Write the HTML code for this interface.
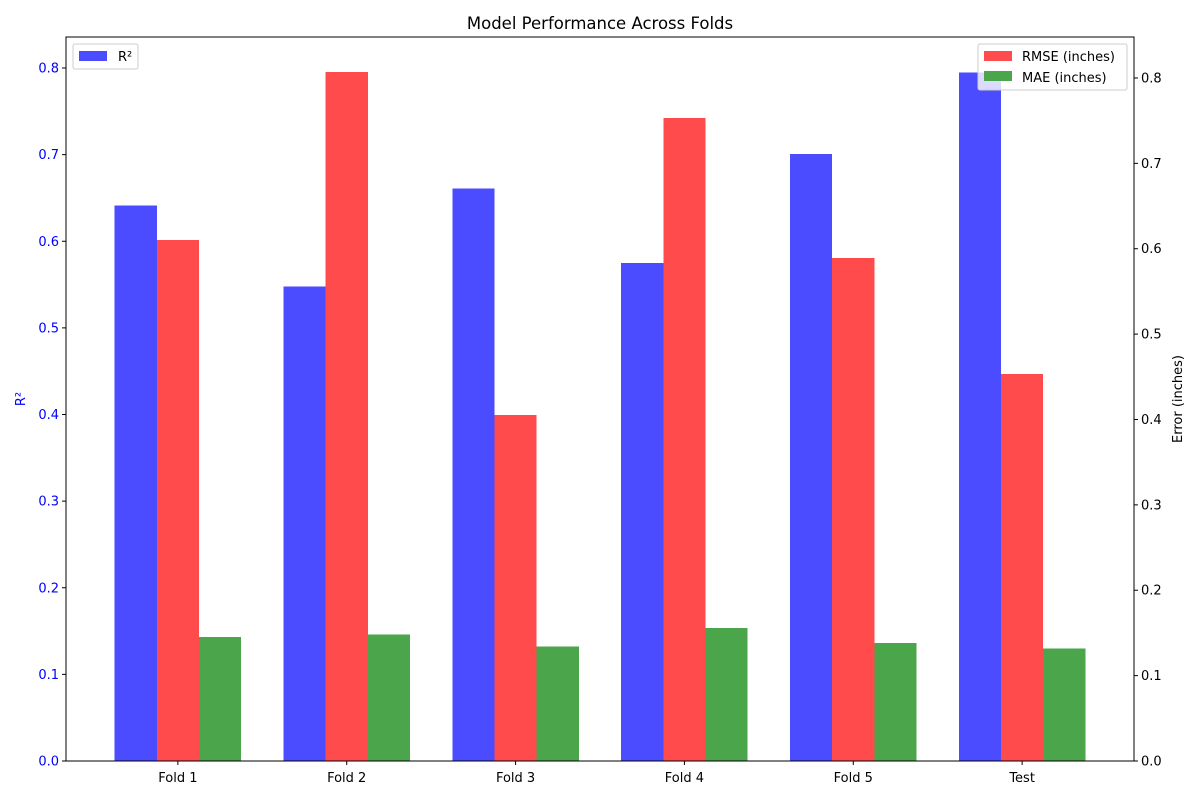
<!DOCTYPE html>
<html><head><meta charset="utf-8"><style>
body{margin:0;background:#fff;}
svg text{font-family:"DejaVu Sans","Liberation Sans",sans-serif;}
</style></head><body>
<svg id="chart" width="1200" height="800" xmlns="http://www.w3.org/2000/svg">
<rect width="1200" height="800" fill="#fff"/>
<text x="600" y="29" text-anchor="middle" font-size="16.5">Model Performance Across Folds</text>
<g id="bars" shape-rendering="crispEdges"></g>
<g id="axes"></g>
<rect x="66" y="37" width="1068" height="724" fill="none" stroke="#000" stroke-width="1"/>
<text transform="translate(25,399) rotate(-90)" text-anchor="middle" font-size="13" fill="#0000ff">R²</text>
<text transform="translate(1182,399) rotate(-90)" text-anchor="middle" font-size="13">Error (inches)</text>
<g>
<rect x="73" y="44" width="65" height="25" fill="#fff" fill-opacity="0.8" stroke="#ccc" rx="2"/>
<rect x="79" y="51" width="28" height="10" fill="#4b4bff"/>
<text x="118" y="61" font-size="13">R²</text>
</g>
<g>
<rect x="978" y="44" width="149" height="46" fill="#fff" fill-opacity="0.8" stroke="#ccc" rx="2"/>
<rect x="984" y="51" width="28" height="10" fill="#ff4b4b"/>
<text x="1022" y="61" font-size="13">RMSE (inches)</text>
<rect x="984" y="71" width="28" height="10" fill="#4ba64b"/>
<text x="1022" y="82" font-size="13">MAE (inches)</text>
</g>
</svg>
<script>
const categories = ["Fold 1","Fold 2","Fold 3","Fold 4","Fold 5","Test"];
const r2Values = [0.641,0.548,0.661,0.575,0.701,0.795];
const rmseValues = [0.610,0.807,0.405,0.753,0.589,0.453];
const maeValues = [0.145,0.148,0.134,0.156,0.138,0.132];
const leftTicks = [0,0.1,0.2,0.3,0.4,0.5,0.6,0.7,0.8];
const rightTicks = [0,0.1,0.2,0.3,0.4,0.5,0.6,0.7,0.8];

const NS="http://www.w3.org/2000/svg";
const L=66,R=1134,T=37,B=761;
const xMin=-0.6625,xMax=5.6625;
const yLmax=0.8358,yRmax=0.848;
const xs=v=>L+(v-xMin)/(xMax-xMin)*(R-L);
const yl=v=>B-v/yLmax*(B-T);
const yr=v=>B-v/yRmax*(B-T);
const bw=0.25;
const bars=document.getElementById('bars');
const axes=document.getElementById('axes');
function mk(tag,attrs,parent){const e=document.createElementNS(NS,tag);for(const k in attrs)e.setAttribute(k,attrs[k]);parent.appendChild(e);return e;}
const series=[[r2Values,yl,'#4b4bff','r2',-1],[rmseValues,yr,'#ff4b4b','rmse',0],[maeValues,yr,'#4ba64b','mae',1]];
series.forEach(([vals,sc,col,nm,off])=>{
  vals.forEach((v,i)=>{
    const x0=xs(i+off*bw-bw/2),x1=xs(i+off*bw+bw/2);
    const r=mk('rect',{x:x0,y:sc(v),width:x1-x0,height:B-sc(v),fill:col},bars);
    
    
  });
});
categories.forEach((c,i)=>{
  const x=xs(i);
  mk('line',{x1:x,x2:x,y1:B,y2:B+4,stroke:'#000'},axes);
  const t=mk('text',{x:x,y:B+21,'text-anchor':'middle','font-size':13},axes);
  t.textContent=c;
  
  
});
leftTicks.forEach(v=>{
  const y=yl(v);
  mk('line',{x1:L-4,x2:L,y1:y,y2:y,stroke:'#000'},axes);
  const t=mk('text',{x:L-7,y:y+4.5,'text-anchor':'end','font-size':13,fill:'#0000ff'},axes);
  t.textContent=v.toFixed(1);
  
  
});
rightTicks.forEach(v=>{
  const y=yr(v);
  mk('line',{x1:R,x2:R+4,y1:y,y2:y,stroke:'#000'},axes);
  const t=mk('text',{x:R+7,y:y+4.5,'text-anchor':'start','font-size':13},axes);
  t.textContent=v.toFixed(1);
  
  
});
</script>
</body></html>
